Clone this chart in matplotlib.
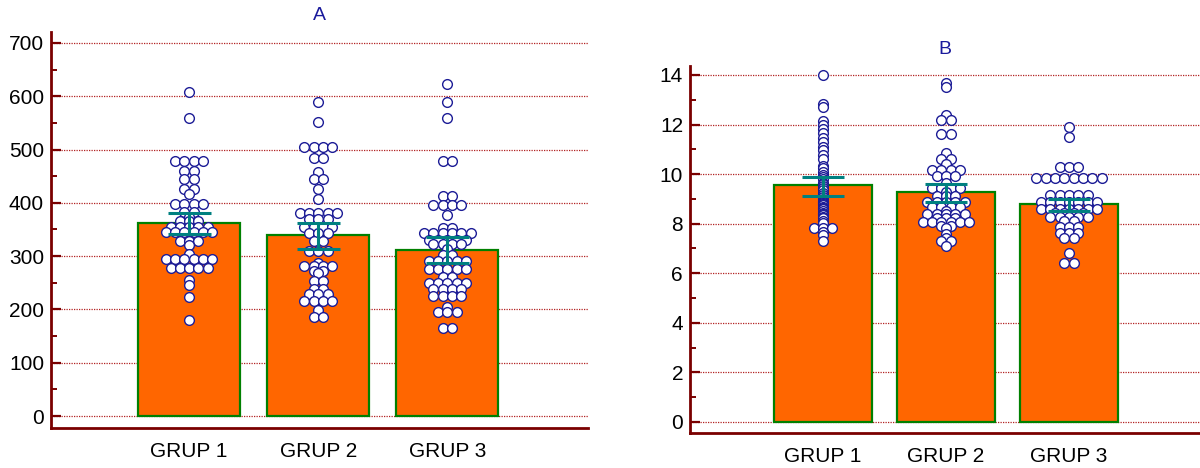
import numpy as np
import matplotlib
matplotlib.use("Agg")
import matplotlib.pyplot as plt
from matplotlib.ticker import MultipleLocator

plt.rcParams['font.family'] = ['Liberation Sans', 'DejaVu Sans']

categories = ["GRUP 1", "GRUP 2", "GRUP 3"]

# ---- Panel A data ----
a_means = [362, 340, 312]
a_ci_low = [341, 313, 288]
a_ci_high = [381, 363, 335]
a_g1 = [608, 560, 479, 479, 479, 479, 460, 460, 444, 444, 426, 426, 416,
        397, 397, 397, 397, 383, 383, 374, 365, 365, 365,
        355, 355, 355, 355, 355, 346, 346, 346, 346, 346, 346,
        329, 329, 329, 320, 304, 295, 295, 295, 295, 295, 295,
        277, 277, 277, 277, 277, 255, 246, 224, 181]
a_g2 = [590, 551, 504, 504, 504, 504, 485, 485, 457, 444, 444, 425, 408,
        380, 380, 380, 380, 380, 369, 369, 369, 354, 354, 354, 354,
        343, 343, 343, 329, 329, 310, 310, 310, 288, 281, 281, 281, 281,
        273, 273, 268, 254, 254, 238, 238, 229, 229, 229,
        216, 216, 216, 216, 198, 185, 185]
a_g3 = [623, 590, 559, 479, 479, 413, 413, 395, 395, 395, 395, 378, 352, 352,
        343, 343, 343, 343, 343, 343, 331, 331, 331, 331, 331,
        322, 322, 322, 322, 313, 302, 302, 291, 291, 291, 291, 291,
        275, 275, 275, 275, 275, 261, 261, 250, 250, 250, 250, 250,
        239, 239, 239, 239, 225, 225, 225, 225, 204, 196, 196, 196, 165, 165]

# ---- Panel B data ----
b_means = [9.55, 9.27, 8.78]
b_ci_low = [9.13, 8.88, 8.51]
b_ci_high = [9.89, 9.62, 8.98]
b_g1 = [14.0, 12.81, 12.69, 12.14, 11.98, 11.82, 11.64, 11.46, 11.28, 11.08,
        10.97, 10.77, 10.59, 10.33, 10.23, 10.10, 9.96, 9.88, 9.79, 9.65,
        9.58, 9.52, 9.44, 9.36, 9.22, 9.15, 9.09, 8.98, 8.93, 8.89, 8.84,
        8.79, 8.74, 8.69, 8.63, 8.58, 8.50, 8.44, 8.39, 8.34, 8.28, 8.23,
        8.12, 8.01, 7.84, 7.84, 7.84, 7.68, 7.54, 7.31]
b_g2 = [13.69, 13.50, 12.38, 12.18, 12.18, 11.62, 11.62, 10.84, 10.60, 10.60,
        10.41, 10.15, 10.15, 10.15, 10.15, 9.92, 9.92, 9.92, 9.63,
        9.43, 9.43, 9.43, 9.43, 9.29, 9.12, 9.12, 9.12,
        8.88, 8.88, 8.88, 8.88, 8.88, 8.69, 8.69, 8.69, 8.69, 8.52,
        8.39, 8.39, 8.39, 8.39, 8.39, 8.22, 8.22, 8.22,
        8.05, 8.05, 8.05, 8.05, 8.05, 8.05, 7.91, 7.91, 7.81, 7.58, 7.41,
        7.31, 7.31, 7.10]
b_g3 = [11.89, 11.48, 10.30, 10.30, 10.30,
        9.84, 9.84, 9.84, 9.84, 9.84, 9.84, 9.84, 9.84,
        9.17, 9.17, 9.17, 9.17, 9.17,
        8.87, 8.87, 8.87, 8.87, 8.87, 8.87, 8.87,
        8.60, 8.60, 8.60, 8.60, 8.60, 8.60, 8.60,
        8.42, 8.42, 8.42, 8.42, 8.25, 8.25, 8.25, 8.25, 8.25, 8.12, 8.12,
        7.85, 7.85, 7.85, 7.61, 7.61, 7.61, 7.41, 7.41, 6.83, 6.43, 6.43]

ORANGE = "#ff6600"
GREEN = "#008000"
TEAL = "#008080"
DARKRED = "#7a0000"
GRIDRED = "#b22222"
NAVY = "#1c1c96"
TITLEBLUE = "#1a1a9c"

fig = plt.figure(figsize=(12, 4.68), dpi=100)


def tie_offsets(values, spacing):
    vals = np.asarray(values, dtype=float)
    offs = np.zeros(len(vals))
    for v in np.unique(vals):
        idx = np.where(vals == v)[0]
        n = len(idx)
        offs[idx] = (np.arange(n) - (n - 1) / 2.0) * spacing
    return offs


def panel(rect, title, means, lo, hi, groups, ylim, xlim, major, minor, fmt_pad):
    ax = fig.add_axes(rect)
    ax.set_xlim(*xlim)
    ax.set_ylim(*ylim)
    xs = np.arange(len(categories))
    ax.yaxis.set_major_locator(MultipleLocator(major))
    ax.yaxis.set_minor_locator(MultipleLocator(minor))
    ax.grid(axis='y', which='major', color=GRIDRED, linestyle=(0, (1, 1)),
            linewidth=0.9, zorder=0)
    ax.set_axisbelow(True)
    ax.bar(xs, means, width=0.79, color=ORANGE, edgecolor=GREEN,
           linewidth=1.6, zorder=2)
    # spacing of tied points: ~9.3 px
    p0 = ax.transData.transform((0, 0))
    p1 = ax.transData.transform((1, 0))
    per_unit = p1[0] - p0[0]
    spacing = 9.3 / per_unit
    for i, g in enumerate(groups):
        offs = tie_offsets(g, spacing)
        ax.scatter(xs[i] + offs, g, s=7.0 ** 2, facecolor='white',
                   edgecolor=NAVY, linewidth=1.0, zorder=3)
    ax.vlines(xs, lo, hi, color=TEAL, linewidth=2.2, zorder=4)
    ax.hlines(lo, xs - 0.167, xs + 0.167, color=TEAL, linewidth=2.2, zorder=4)
    ax.hlines(hi, xs - 0.167, xs + 0.167, color=TEAL, linewidth=2.2, zorder=4)
    ax.set_xticks(xs)
    ax.set_xticklabels(categories, fontsize=15)
    ax.tick_params(axis='x', length=0, pad=10)
    ax.tick_params(axis='y', which='major', direction='in', length=7.5,
                   width=1.6, color=DARKRED, labelsize=15, pad=fmt_pad)
    ax.tick_params(axis='y', which='minor', direction='in', length=4,
                   width=1.4, color=DARKRED)
    for s in ('top', 'right'):
        ax.spines[s].set_visible(False)
    for s in ('left', 'bottom'):
        ax.spines[s].set_color(DARKRED)
        ax.spines[s].set_linewidth(2.0)
    ax.set_title(title, color=TITLEBLUE, fontsize=14, pad=9)
    return ax


panel([51 / 1200, 40 / 468, 537 / 1200, 396 / 468], "A",
      a_means, a_ci_low, a_ci_high, [a_g1, a_g2, a_g3],
      (-22.5, 720.5), (-1.07, 3.09), 100, 50, 5)
panel([690 / 1200, 35 / 468, 510 / 1200, 367 / 468], "B",
      b_means, b_ci_low, b_ci_high, [b_g1, b_g2, b_g3],
      (-0.444, 14.36), (-1.081, 3.065), 2, 1, 5)

fig.savefig("out.png", dpi=100)
